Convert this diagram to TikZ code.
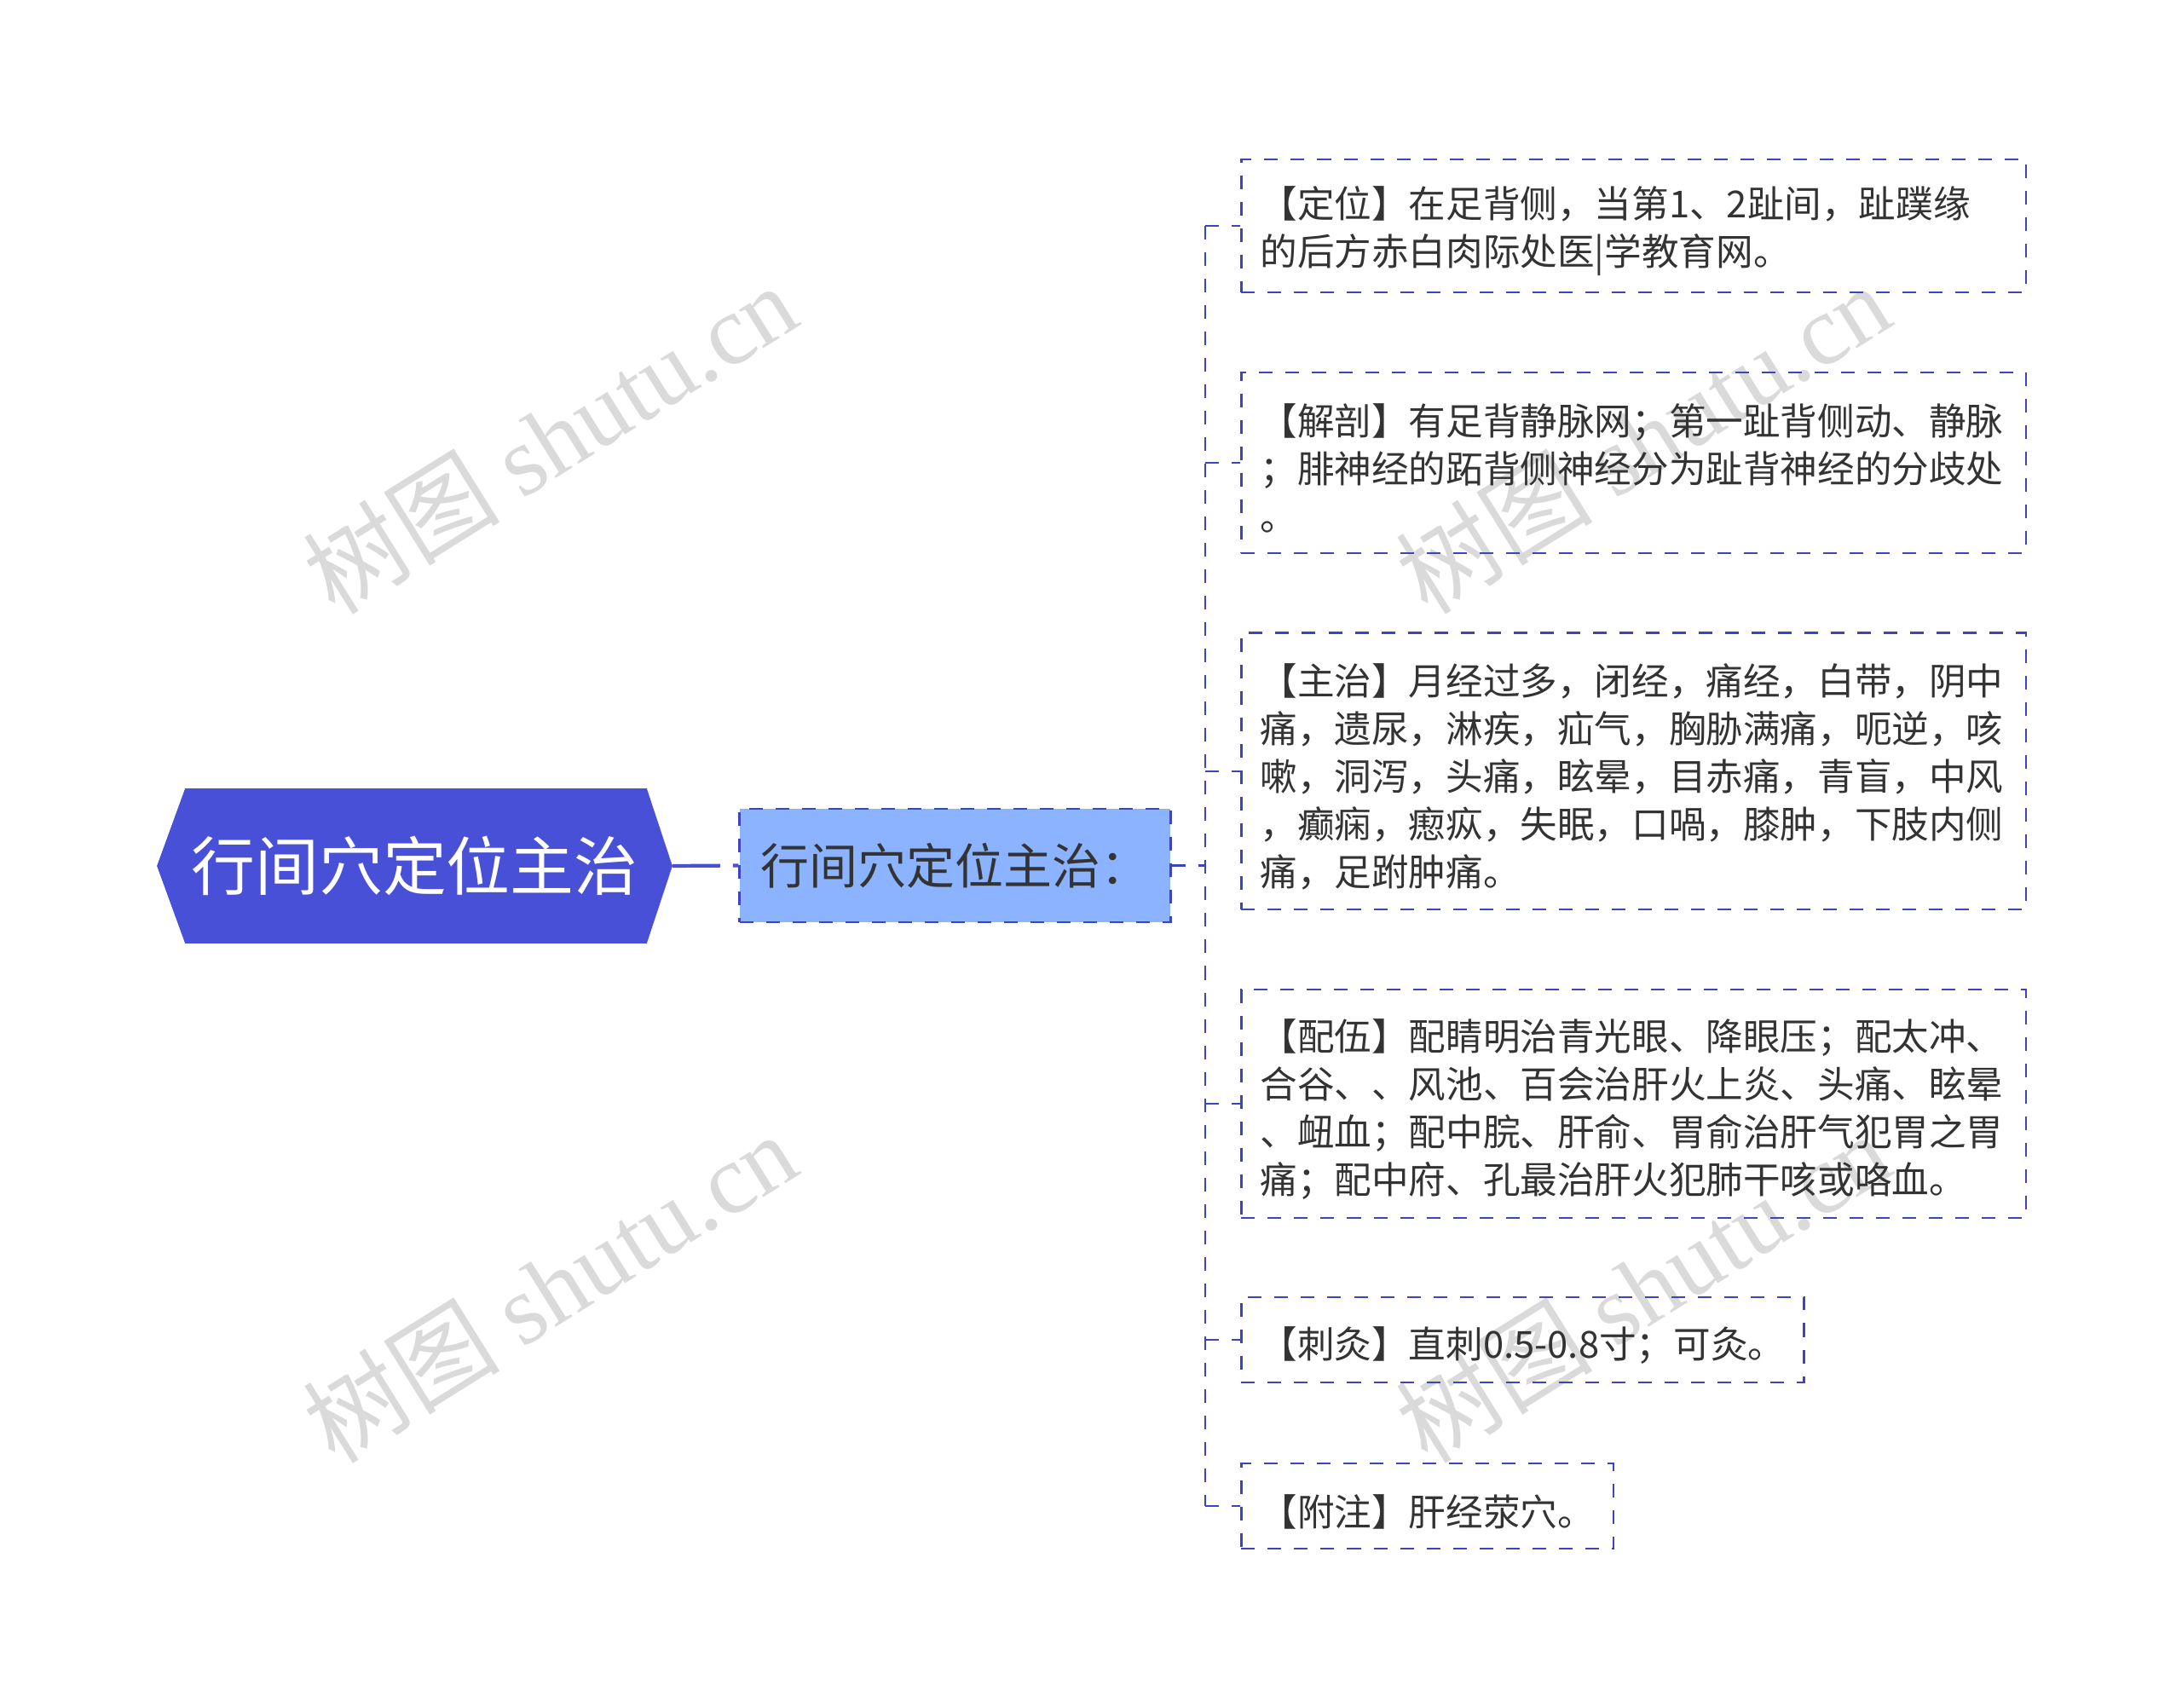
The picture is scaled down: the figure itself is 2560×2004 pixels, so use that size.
\documentclass[tikz,border=0pt]{standalone}
\usepackage{fontspec}
\setmainfont{Noto Sans CJK SC}
\newfontfamily\wmfont{Liberation Serif}
\usepackage{xcolor}
\usepackage{tikz}
\usetikzlibrary{backgrounds}

\definecolor{rootblue}{HTML}{4950D8}
\definecolor{subblue}{HTML}{8CB3FF}
\definecolor{linkblue}{HTML}{3D45B8}
\definecolor{leaftext}{HTML}{333333}
\definecolor{markgray}{HTML}{DADADA}

\begin{document}
\begin{tikzpicture}[x=0.01cm, y=-0.01cm]
	\tikzstyle{every node}=[inner sep=0pt];
	\tikzstyle{link}=[draw=linkblue, line width=0.8pt, dash pattern=on 0.16cm off 0.15cm];
	\tikzstyle{rootnode}=[minimum width=6.03cm, minimum height=1.8cm, text=white, font=\fontsize{21.3pt}{24pt}\selectfont];
	\tikzstyle{subnode}=[link, fill=subblue, minimum width=5.05cm, minimum height=1.33cm, text=leaftext, font=\fontsize{16.2pt}{19pt}\selectfont];
	\tikzstyle{leaf}=[link, anchor=west, align=left, inner xsep=0.22cm, text=leaftext, font=\fontsize{12.4pt}{15.9pt}\selectfont, execute at begin node={\rule{0pt}{0.5cm}}];
	\tikzstyle{wideleaf}=[leaf, text width=8.76cm];
	\tikzstyle{wmark}=[text=markgray, rotate=32, font=\fontsize{33pt}{33pt}\selectfont];
	\useasboundingbox (0,0) rectangle (2560,2004);
	
	%Watermarks
	\foreach \x/\y/\n in {645/514/1, 645/1510/2, 1927/514/3, 1927/1510/4}
		\node[wmark] (wm\n) at (\x,\y) {树图 {\wmfont shutu.cn}};
	
	%Root and subtopic
	\node[rootnode] (root) at (486.5,1016) {行间穴定位主治};
	\begin{scope}[on background layer]
		\fill[rootblue] (root.west) -- ([xshift=0.33cm]root.north west) -- ([xshift=-0.3cm]root.north east) -- (root.east) -- ([xshift=-0.3cm]root.south east) -- ([xshift=0.33cm]root.south west) -- cycle;
	\end{scope}
	\node[subnode] (sub) at (1120.5,1015.5) {行间穴定位主治：};
	
	%Leaves
	\node[wideleaf, minimum height=1.56cm] (leaf1) at (1455,265) {【定位】在足背侧，当第1、2趾间，趾蹼缘\\的后方赤白肉际处医|学教育网。};
	\node[wideleaf, minimum height=2.12cm] (leaf2) at (1455,543) {【解剖】有足背静脉网；第一趾背侧动、静脉\\；腓神经的跖背侧神经分为趾背神经的分歧处\\。};
	\node[wideleaf, minimum height=3.24cm] (leaf3) at (1455,905) {【主治】月经过多，闭经，痛经，白带，阴中\\痛，遗尿，淋疾，疝气，胸胁满痛，呃逆，咳\\嗽，洞泻，头痛，眩晕，目赤痛，青盲，中风\\，癫痫，瘛疭，失眠，口喎，膝肿，下肢内侧\\痛，足跗肿痛。};
	\node[wideleaf, minimum height=2.68cm] (leaf4) at (1455,1295) {【配伍】配睛明治青光眼、降眼压；配太冲、\\合谷、、风池、百会治肝火上炎、头痛、眩晕\\、衄血；配中脘、肝俞、胃俞治肝气犯胃之胃\\痛；配中府、孔最治肝火犯肺干咳或咯血。};
	\node[leaf, minimum height=1cm] (leaf5) at (1455,1572) {【刺灸】直刺0.5-0.8寸；可灸。};
	\node[leaf, minimum height=1cm] (leaf6) at (1455,1767) {【附注】肝经荥穴。};
	
	%Connectors
	\coordinate (fork) at (1414,1015.5);
	\draw[rootblue, line width=1.2pt, dash pattern=on 0.56cm off 0.15cm] (root.east) -- (sub.west);
	\draw[link] (sub.east) -- (fork);
	\draw[link] (fork |- leaf1.west) -- (fork |- leaf6.west);
	\foreach \n in {1,...,6}
		\draw[link] (fork |- leaf\n.west) -- (leaf\n.west);
\end{tikzpicture}
\end{document}
